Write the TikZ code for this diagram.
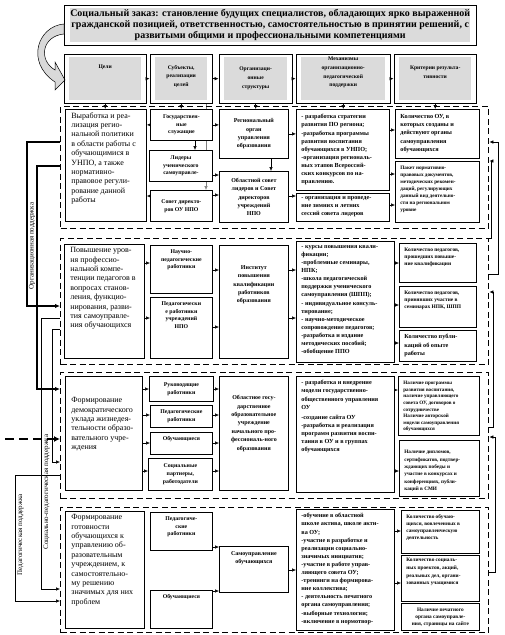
\documentclass[tikz,border=0pt]{standalone}
\usepackage{fontspec}
\setmainfont{Liberation Serif}
\usetikzlibrary{arrows.meta,fit,backgrounds}

% fixed-size text block: [vertical pos]{width}{height}{text}
\newcommand{\cellpar}[4][c]{\parbox[c][#3pt][#1]{#2pt}{#4}}

\tikzset{
  cell/.style={draw, line width=0.8pt, fill=white, anchor=north west, inner xsep=3pt, inner ysep=2pt},
  goal/.style={cell, inner xsep=6pt, font=\fontsize{8}{9.4}\selectfont},
  subj/.style={cell, font=\bfseries\fontsize{5.8}{7.8}\selectfont},
  org/.style={cell, font=\bfseries\fontsize{6}{8.4}\selectfont},
  mech/.style={cell, inner xsep=5pt, font=\bfseries\fontsize{6.2}{8.1}\selectfont},
  crit/.style={cell, inner xsep=5pt, font=\bfseries\fontsize{6.2}{8.2}\selectfont},
  head/.style={fill=gray!28, anchor=north west, inner sep=0pt, font=\bfseries\fontsize{5.6}{8.7}\selectfont},
  headframe/.style={draw, line width=0.9pt, inner xsep=5pt, inner ysep=3pt},
  rowframe/.style={draw, line width=1.4pt, dash pattern=on 6pt off 3.5pt, anchor=north west, inner sep=0pt},
  link/.style={line width=0.6pt, -{Latex[length=4pt,width=3.6pt]}},
  thicklink/.style={line width=1.4pt, -{Latex[length=5pt,width=4.5pt]}},
  side/.style={font=\fontsize{7}{8}\selectfont, rotate=90, inner sep=1pt},
}

\begin{document}
\begin{tikzpicture}[x=1pt,y=-1pt]
  \useasboundingbox (0,0) rectangle (504,635);

  % social order
  \node[head, font=\bfseries\fontsize{10}{10.8}\selectfont] (title) at (70,8) {\cellpar{400}{34}{\centering Социальный заказ: становление будущих специалистов, обладающих ярко выраженной\\гражданской позицией, ответственностью, самостоятельностью в принятии решений, с\\развитыми общими и профессиональными компетенциями}};
  \node[headframe, inner xsep=6pt, fit=(title)] (titlef) {};

  % curved block arrow
  \draw[fill=gray!30, line width=0.5pt] (64,24) .. controls (38,26) and (25,62) .. (55,82)
    -- (55,90) -- (65,80) -- (55,62) -- (55,70) .. controls (38,60) and (42,36) .. (64,34) -- cycle;

  % column heads
  \node[head] (h1) at (69,57) {\cellpar[t]{72}{43}{\centering\vspace*{8pt}Цели}};
  \node[head] (h2) at (155,57) {\cellpar[t]{52}{43}{\centering\vspace*{8pt}Субъекты,\\реализации\\целей}};
  \node[head] (h3) at (224,57) {\cellpar[t]{63}{43}{\centering\vspace*{10pt}Организаци-\\онные\\структуры}};
  \node[head] (h4) at (301,57) {\cellpar[t]{84}{43}{\centering Механизмы\\организационно-\\педагогической\\поддержки}};
  \node[head] (h5) at (399,57) {\cellpar[t]{72}{43}{\centering\vspace*{9pt}Критерии результа-\\тивности}};
  \foreach \h in {h1,h2,h3,h4,h5}
    \node[headframe, fit=(\h)] (\h f) {};
  \draw[link] (h1f) -- (h2f);
  \draw[link] (h2f) -- (h3f);
  \draw[link] (h3f) -- (h4f);
  \draw[link] (h4f) -- (h5f);

  % dashed row frames
  \node[rowframe, minimum width=428pt, minimum height=122pt] (r1) at (60,106) {};
  \node[rowframe, minimum width=428pt, minimum height=126pt] (r2) at (60,238) {};
  \node[rowframe, minimum width=428pt, minimum height=126pt] (r3) at (60,372) {};
  \node[rowframe, minimum width=428pt, minimum height=125pt] (r4) at (60,507) {};

  % Row 1
  \node[goal] (g1) at (65,109) {\cellpar[t]{69}{108}{\raggedright\vspace*{1pt}Выработка и реа-\\лизация регио-\\нальной политики\\в области работы с\\обучающимися в\\УНПО, а также\\нормативно-\\правовое регули-\\рование данной\\работы}};
  \node[subj] (s11) at (150,109) {\cellpar{56}{27}{\centering Государствен-\\ные\\служащие}};
  \node[subj] (s12) at (149,150) {\cellpar{57}{27}{\centering Лидеры\\ученического\\самоуправле-}};
  \node[subj] (s13) at (150,190) {\cellpar{56}{27}{\centering Совет директо-\\ров ОУ НПО}};
  \node[org] (o11) at (219,109) {\cellpar{63}{45}{\centering Региональный\\орган\\управления\\образования}};
  \node[org] (o12) at (219,171) {\cellpar{63}{47}{\centering Областной совет\\лидеров и Совет\\директоров\\учреждений\\НПО}};
  \node[mech] (m11) at (296,109) {\cellpar[t]{83}{77}{\raggedright\vspace*{3pt}- разработка стратегии\\развития ПО региона;\\-разработка программы\\развития воспитания\\обучающихся в УНПО;\\-организация региональ-\\ных этапов Всероссий-\\ских конкурсов по на-\\правлению.}};
  \node[mech] (m12) at (296,193) {\cellpar[t]{83}{24}{\raggedright\vspace*{1pt}- организация и проведе-\\ние зимних и летних\\сессий совета лидеров}};
  \node[crit] (c11) at (395,109) {\cellpar[t]{74}{45}{\raggedright\vspace*{3pt}Количество ОУ, в\\которых созданы и\\действуют органы\\самоуправления\\обучающихся}};
  \node[crit] (c12) at (395,161) {\cellpar[t]{74}{57}{\fontsize{5.2}{6.9}\selectfont\raggedright\vspace*{3pt}Пакет нормативно-\\правовых документов,\\методических рекомен-\\даций, регулирующих\\данный вид деятельно-\\сти на региональном\\уровне}};

  % Row 2
  \node[goal] (g2) at (64,244) {\cellpar[t]{68}{110}{\raggedright\vspace*{1pt}Повышение уров-\\ня профессио-\\нальной компе-\\тенции педагогов в\\вопросах станов-\\ления, функцио-\\нирования, разви-\\тия самоуправле-\\ния обучающихся}};
  \node[subj] (s21) at (150,245) {\cellpar[t]{56}{44}{\centering\vspace*{2pt}Научно-\\педагогические\\работники}};
  \node[subj] (s22) at (150,297) {\cellpar[t]{56}{57}{\centering\vspace*{2pt}Педагогически\\е работники\\учреждений\\НПО}};
  \node[org] (o21) at (219,245) {\cellpar[t]{63}{109}{\centering\vspace*{18pt}Институт\\повышения\\квалификации\\работников\\образования}};
  \node[mech] (m2) at (296,241) {\cellpar[t]{88}{117}{\raggedright\vspace*{2pt}- курсы повышения квали-\\фикации;\\-проблемные семинары,\\НПК;\\-школа педагогической\\поддержки ученического\\самоуправления (ШПП);\\- индивидуальное консуль-\\тирование;\\- научно-методическое\\сопровождение педагогов;\\-разработка и издание\\методических пособий;\\-обобщение ППО}};
  \node[crit] (c21) at (399,243) {\cellpar[t]{67}{35}{\fontsize{5.4}{6.8}\selectfont\raggedright\vspace*{3pt}Количество педагогов,\\прошедших повыше-\\ние квалификации}};
  \node[crit] (c22) at (399,286) {\cellpar[t]{67}{37}{\fontsize{5.4}{6.8}\selectfont\raggedright\vspace*{3pt}Количество педагогов,\\принявших участие в\\семинарах НПК, ШПП}};
  \node[crit] (c23) at (399,330) {\cellpar[t]{67}{27}{\raggedright\vspace*{2pt}Количество публи-\\каций об опыте\\работы}};

  % Row 3
  \node[goal] (g3) at (65,376) {\cellpar[t]{65}{110}{\raggedright\vspace*{19pt}Формирование\\демократического\\уклада жизнедея-\\тельности образо-\\вательного учре-\\ждения}};
  \node[subj] (s31) at (149,376) {\cellpar{58}{21}{\centering Руководящие\\работники}};
  \node[subj] (s32) at (150,405) {\cellpar{56}{18}{\centering Педагогические\\работники}};
  \node[subj] (s33) at (150,432) {\cellpar[t]{56}{18}{\centering\vspace*{2pt}Обучающиеся}};
  \node[subj] (s34) at (148,458) {\cellpar{58}{28}{\centering Социальные\\партнеры,\\работодатели}};
  \node[org] (o3) at (219,376) {\cellpar[t]{63}{110}{\centering\vspace*{17pt}Областное госу-\\дарственное\\образовательное\\учреждение\\начального про-\\фессиональ-ного\\образования}};
  \node[mech] (m3) at (296,376) {\cellpar[t]{88}{112}{\raggedright\vspace*{2pt}- разработка и внедрение\\модели государственно-\\общественного управления\\ОУ\\[2pt]-создание сайта ОУ\\-разработка и реализация\\программ развития воспи-\\тания в ОУ и в группах\\обучающихся}};
  \node[crit] (c31) at (398,376) {\cellpar[t]{71}{55}{\fontsize{5.1}{6.6}\selectfont\raggedright\vspace*{3pt}Наличие программы\\развития воспитания,\\наличие управляющего\\совета ОУ, договоров о\\сотрудничестве\\Наличие авторской\\модели самоуправления\\обучающихся}};
  \node[crit] (c32) at (399,440) {\cellpar[t]{70}{52}{\fontsize{5.2}{7.3}\selectfont\raggedright\vspace*{8pt}Наличие дипломов,\\сертификатов, подтвер-\\ждающих победы и\\участие в конкурсах и\\конференциях, публи-\\каций в СМИ}};

  % Row 4
  \node[goal] (g4) at (65,511) {\cellpar[t]{67}{113}{\raggedright\vspace*{1pt}Формирование\\готовности\\обучающихся к\\управлению об-\\разовательным\\учреждением, к\\самостоятельно-\\му решению\\значимых для них\\проблем}};
  \node[subj] (s41) at (150,512) {\cellpar[t]{56}{34}{\centering\vspace*{2pt}Педагогиче-\\ские\\работники}};
  \node[subj] (s42) at (150,590) {\cellpar[t]{56}{34}{\centering\vspace*{2pt}Обучающиеся}};
  \node[org] (o4) at (219,546) {\cellpar[t]{63}{42}{\centering\vspace*{3pt}Самоуправление\\обучающихся}};
  \node[mech] (m4) at (296,509) {\cellpar[t]{88}{117}{\raggedright\vspace*{2pt}-обучение в областной\\школе актива, школе акти-\\ва ОУ;\\-участие в разработке и\\реализации социально-\\значимых инициатив;\\-участие в работе управ-\\ляющего совета ОУ;\\-тренинги на формирова-\\ние коллектива;\\- деятельность печатного\\органа самоуправления;\\-выборные технологии;\\-включение в нормотвор-}};
  \node[crit] (c41) at (401,510) {\cellpar[t]{68}{39}{\fontsize{5.3}{7.1}\selectfont\raggedright\vspace*{2pt}Количество обучаю-\\щихся, вовлеченных в\\самоуправленческую\\деятельность}};
  \node[crit] (c42) at (401,555) {\cellpar[t]{68}{42}{\fontsize{5.3}{7.6}\selectfont\raggedright\vspace*{1pt}Количество социаль-\\ных проектов, акций,\\реальных дел, органи-\\зованных учащимися}};
  \node[crit] (c43) at (401,603) {\cellpar{68}{23}{\fontsize{5.3}{7}\selectfont\centering Наличие печатного\\органа самоуправле-\\ния, страницы на сайте}};

  % heads into row 1
  \draw[link] (h1f.south) -- (h1f.south |- g1.north);
  \draw[link] (h2f.south) -- (h2f.south |- s11.north);
  \draw[link] (h3f.south) -- (h3f.south |- o11.north);
  \draw[link] (h4f.south) -- (h4f.south |- m11.north);
  \draw[link] (h5f.south) -- (h5f.south |- c11.north);

  % links in row 1
  \draw[link] (s11.west) -- (s11.west -| g1.east);
  \draw[link] (s13.west |- 0,196) -- (g1.east |- 0,196);
  \draw[link] (s11.south -| 195,0) -- (s12.north -| 195,0);
  \draw[link] (s11.east) -- (s11.east -| o11.west);
  \draw[link] (s12.east |- 0,175) -- (o12.west |- 0,175);
  \draw[link] (s13.east |- 0,195) -- (o12.west |- 0,195);
  \draw[link] (o11.south -| 271,0) -- (o12.north -| 271,0);
  \draw[link] (o11.east) -- (o11.east -| m11.west);
  \draw[link] (o12.east |- 0,196) -- (m12.west |- 0,196);
  \draw[link] (m11.east |- 0,130) -- (c11.west |- 0,130);
  \draw[link] (m11.east |- 0,174) -- (c12.west |- 0,174);
  \draw[link] (m12.east |- 0,205) -- (c12.west |- 0,205);

  % links in row 2
  \draw[link] (g2.east |- 0,263) -- (s21.west |- 0,263);
  \draw[link] (g2.east |- 0,318) -- (s22.west |- 0,318);
  \draw[link] (s21.east |- 0,270) -- (o21.west |- 0,270);
  \draw[link] (s22.east |- 0,327) -- (o21.west |- 0,327);
  \draw[link] (o21.east |- 0,270) -- (m2.west |- 0,270);
  \draw[link] (o21.east |- 0,318) -- (m2.west |- 0,318);
  \draw[link] (m2.east |- 0,263) -- (c21.west |- 0,263);
  \draw[link] (m2.east |- 0,305) -- (c22.west |- 0,305);
  \draw[link] (m2.east |- 0,343) -- (c23.west |- 0,343);

  % links in row 3
  \foreach \s/\yy in {s31/389, s32/415, s33/443, s34/471} {
    \draw[link] (g3.east |- 0,\yy) -- (\s.west |- 0,\yy);
    \draw[link] (\s.east |- 0,\yy) -- (o3.west |- 0,\yy);
  }
  \draw[link] (m3.east |- 0,390) -- (c31.west |- 0,390);
  \draw[link] (m3.east |- 0,471) -- (c32.west |- 0,471);

  % links in row 4
  \draw[link] (s41.east |- 0,547) -- (o4.west |- 0,547);
  \draw[link] (s42.east |- 0,591) -- (o4.west |- 0,591);
  \draw[link] (o4.east |- 0,570) -- (m4.west |- 0,570);
  \draw[link] (m4.east |- 0,531) -- (c41.west |- 0,531);
  \draw[link] (m4.east |- 0,583) -- (c42.west |- 0,583);

  % support lines on the left
  \draw[thicklink] (r1.west |- 0,142) -| (27,306) -- (r2.west |- 0,306);
  \draw[thicklink] (r1.west |- 0,166) -| (37,389) -- (r3.west |- 0,389);
  \draw[link] (r2.west |- 0,318) -| (41,589) -- (r4.west |- 0,589);
  \draw[link] (r2.west |- 0,329) -| (52,462) -- (r3.west |- 0,462);
  \draw[link] (r3.west |- 0,475) -| (15,601) -- (r4.west |- 0,601);
  \coordinate (dsrc) at (5,439);
  \draw[line width=2.2pt, dash pattern=on 9pt off 5pt, -{Latex[length=6pt,width=6pt]}] (dsrc) -- (r3.west |- dsrc);
  \node[side] (lorg) at (32,246) {Организационная поддержка};
  \node[side] (lsoc) at (46.5,492) {Социально-педагогическая поддержка};
  \node[side] (lped) at (20.5,535) {Педагогическая поддержка};

  % feedback lines on the right
  \draw[link] (r2.east |- 0,274) -| (498,142) -- (r1.east |- 0,142);
  \draw[link] (r2.north east) -| (491,161) -- (r1.east |- 0,161);
  \draw[link] (r3.east |- 0,427) -| (493,292) -- (r2.east |- 0,292);
  \draw[link] (r4.east |- 0,572) -| (495,437) -- (r3.east |- 0,437);

  % gray line behind the subject boxes
  \begin{scope}[on background layer]
    \draw[link, gray] (h2f.south -| 206,0) -- (s13.north -| 206,0);
  \end{scope}
\end{tikzpicture}
\end{document}
